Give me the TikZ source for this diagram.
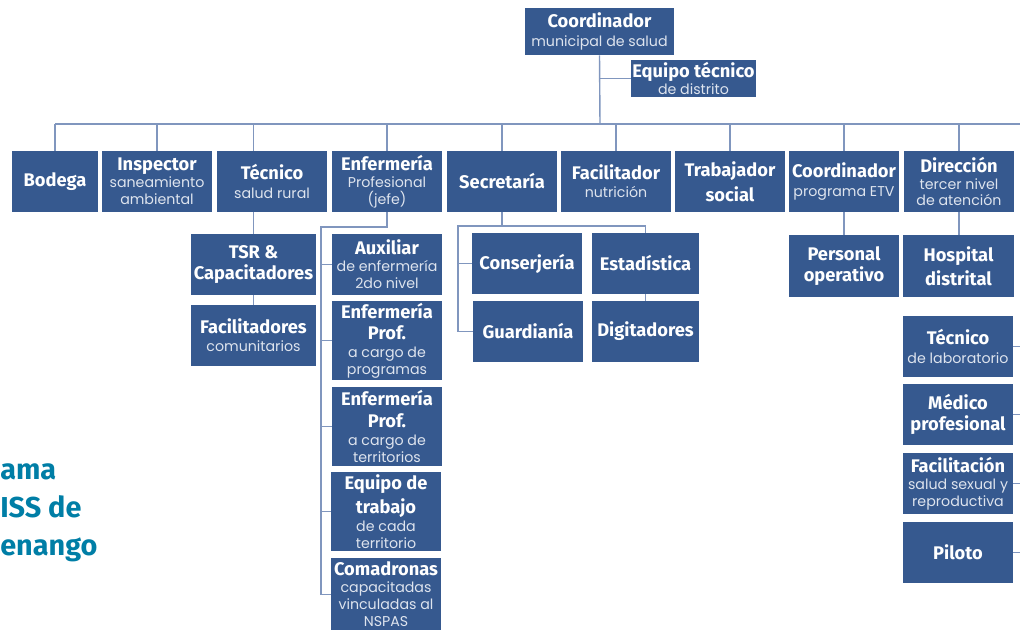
\documentclass[tikz,border=0pt]{standalone}
\usepackage{fontspec}
\setmainfont{Fira Sans}
\newfontfamily\headfont{Fira Sans}
\newfontfamily\subfont{Poppins}
\usetikzlibrary{calc}
\definecolor{boxblue}{RGB}{54,89,143}
\definecolor{linkblue}{RGB}{128,150,190}
\definecolor{titleblue}{RGB}{0,126,166}
\definecolor{subwhite}{RGB}{222,228,238}
\newcommand{\hd}[1]{{\headfont\bfseries\fontsize{13}{15}\selectfont #1}}
\newcommand{\sub}[1]{{\subfont\fontsize{10.1}{12}\selectfont\color{subwhite}#1}}
\tikzset{
% boxes of the chart and the lines between them
orgbox/.style={fill=boxblue,text=white,align=center,inner sep=0pt,
  minimum width=2.75cm,minimum height=1.525cm,font=\fontsize{10}{12}\selectfont},
wide box/.style={orgbox,minimum width=3.125cm},
tall box/.style={orgbox,minimum height=1.975cm},
orgline/.style={draw=linkblue,line width=1pt}
}

\begin{document}
\begin{tikzpicture}[x=0.025cm,y=-0.025cm]
  \useasboundingbox (0,0) rectangle (1020,630);
  % title, cut at the left edge
  \node[anchor=north west,align=left,inner sep=0pt,text=titleblue,
    font=\bfseries\fontsize{20.5}{27}\selectfont] (title) at (0,463) {ama\\ISS de\\enango};

  \node[orgbox,minimum width=3.725cm,minimum height=1.175cm] (coord) at (599.5,31.5)
    {\hd{Coordinador}\\[1pt]\sub{municipal de salud}};
  \node[orgbox,minimum width=3.125cm,minimum height=0.925cm] (equipo) at (693.5,78.5)
    {\hd{Equipo técnico}\\\sub{de distrito}};

  % first row
  \node[orgbox,minimum width=2.15cm] (bodega) at (55,181.5) {\hd{Bodega}};
  \node[orgbox] (inspector) at (157,181.5) {\hd{Inspector}\\\sub{saneamiento}\\\sub{ambiental}};
  \node[orgbox] (tecnico) at (272,181.5) {\hd{Técnico}\\[1pt]\sub{salud rural}};
  \node[orgbox] (enfermeria) at (387,181.5) {\hd{Enfermería}\\\sub{Profesional}\\\sub{(jefe)}};
  \node[orgbox] (secretaria) at (502,181.5) {\hd{Secretaría}};
  \node[orgbox] (facilitador) at (616,181.5) {\hd{Facilitador}\\[1pt]\sub{nutrición}};
  \node[orgbox] (trabajador) at (730,181.5) {\hd{Trabajador}\\[3pt]\hd{social}};
  \node[orgbox] (etv) at (844,181.5) {\hd{Coordinador}\\[1pt]\sub{programa ETV}};
  \node[orgbox] (direccion) at (959,181.5) {\hd{Dirección}\\\sub{tercer nivel}\\\sub{de atención}};

  % under Técnico
  \node[wide box] (tsr) at (253.5,264.5) {\hd{TSR \&}\\[3pt]\hd{Capacitadores}};
  \node[wide box] (facilitadores) at (253.5,335.5) {\hd{Facilitadores}\\[1pt]\sub{comunitarios}};

  % under Enfermería
  \node[orgbox] (auxiliar) at (387,264.5) {\hd{Auxiliar}\\\sub{de enfermería}\\\sub{2do nivel}};
  \node[tall box] (enfprog) at (387,340.5) {\hd{Enfermería}\\[3pt]\hd{Prof.}\\[1pt]\sub{a cargo de}\\\sub{programas}};
  \node[tall box] (enfterr) at (387,426.5) {\hd{Enfermería}\\[3pt]\hd{Prof.}\\[1pt]\sub{a cargo de}\\\sub{territorios}};
  \node[tall box] (equipotrab) at (386,511.5) {\hd{Equipo de}\\[3pt]\hd{trabajo}\\[1pt]\sub{de cada}\\\sub{territorio}};
  \node[tall box,minimum height=1.8cm,anchor=north] (comadronas) at (386,558)
    {\hd{Comadronas}\\\sub{capacitadas}\\\sub{vinculadas al}\\\sub{NSPAS}};

  % under Secretaría
  \node[orgbox] (conserjeria) at (527,263.5) {\hd{Conserjería}};
  \node[orgbox,minimum width=2.675cm] (estadistica) at (645.5,263.5) {\hd{Estadística}};
  \node[orgbox] (guardiania) at (528,331.5) {\hd{Guardianía}};
  \node[orgbox,minimum width=2.675cm] (digitadores) at (645.5,331.5) {\hd{Digitadores}};

  % right side
  \node[orgbox] (personal) at (844,266) {\hd{Personal}\\[3pt]\hd{operativo}};
  \node[orgbox] (hospital) at (958.5,266) {\hd{Hospital}\\[3pt]\hd{distrital}};
  \node[orgbox] (lab) at (958,346.5) {\hd{Técnico}\\[1pt]\sub{de laboratorio}};
  \node[orgbox] (medico) at (958,414.5) {\hd{Médico}\\[3pt]\hd{profesional}};
  \node[orgbox] (facilitacion) at (958,483.5) {\hd{Facilitación}\\\sub{salud sexual y}\\\sub{reproductiva}};
  \node[orgbox] (piloto) at (958,552.5) {\hd{Piloto}};

  % connectors
  \coordinate (bus) at (600,124);
  \coordinate (busend) at (1030,124);
  \coordinate (edge) at (1030,0);
  \draw[orgline] (coord.south) -- (bus);
  \draw[orgline] (coord.south |- equipo.west) -- (equipo.west);
  \draw[orgline] (bodega.north |- bus) -- (busend);
  \foreach \n in {bodega,inspector,enfermeria,secretaria,facilitador,trabajador,direccion}
    \draw[orgline] (\n.north) -- (\n.north |- bus);
  \draw[orgline] (etv.north -| personal) -- (personal |- bus);
  \draw[orgline] (tecnico.north -| tsr) -- (tsr |- bus);
  \draw[orgline] (tecnico.south -| tsr) -- (tsr.north);
  \draw[orgline] (tsr.south) -- (facilitadores.north);

  \coordinate (enfbend) at (321,227);
  \draw[orgline] (enfermeria.south) |- (enfbend) -- (enfbend |- comadronas.west) -- (comadronas.west);
  \foreach \n in {auxiliar,enfprog,enfterr,equipotrab}
    \draw[orgline] (enfbend |- \n.west) -- (\n.west);

  \coordinate (secbend) at (458,226);
  \draw[orgline] (secretaria.south) -- (secretaria.south |- secbend);
  \draw[orgline] (guardiania.west) -| (secbend) -- (secbend -| estadistica) -- (estadistica.north);
  \draw[orgline] (secbend |- conserjeria.west) -- (conserjeria.west);
  \draw[orgline] (estadistica.south) -- (digitadores.north);

  \draw[orgline] (etv.south -| personal) -- (personal.north);
  \draw[orgline] (direccion.south) -- (direccion.south |- hospital.north);
  \foreach \n in {lab,medico,facilitacion,piloto}
    \draw[orgline] (\n.east) -- (\n.east -| edge);
\end{tikzpicture}
\end{document}
